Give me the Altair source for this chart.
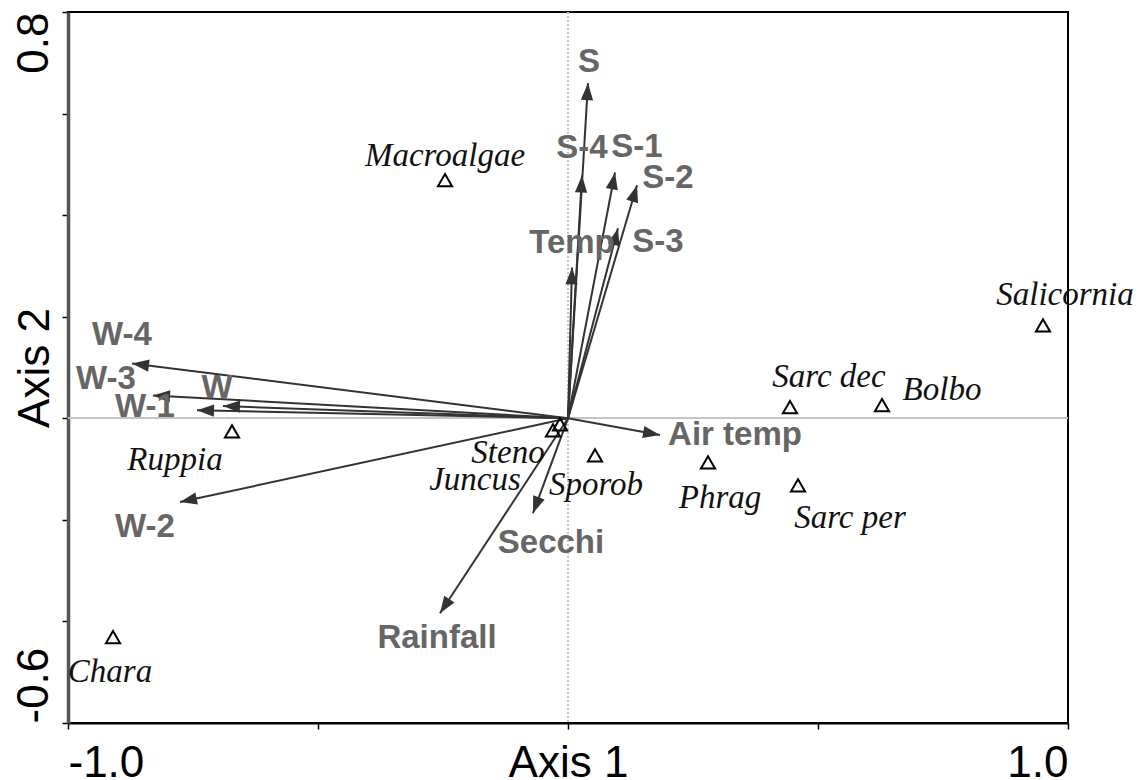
import altair as alt
import pandas as pd
import numpy as np

# ---------------- data ----------------
species = ["Macroalgae", "Salicornia", "Sarc dec", "Bolbo", "Sarc per", "Phrag",
           "Sporob", "Steno", "Juncus", "Ruppia", "Chara"]
species_x = [-0.246, 0.95, 0.444, 0.628, 0.46, 0.28, 0.054, -0.03, -0.016, -0.672, -0.91]
species_y = [0.469, 0.183, 0.022, 0.026, -0.132, -0.087, -0.073, -0.024, -0.012, -0.026, -0.431]

variables = ["S", "S-4", "S-1", "S-2", "S-3", "Temp", "W-4", "W-3", "W-1", "W", "W-2",
             "Air temp", "Secchi", "Rainfall"]
var_x = [0.04, 0.028, 0.094, 0.138, 0.1, 0.008, -0.872, -0.83, -0.742, -0.69, -0.776,
         0.184, -0.07, -0.256]
var_y = [0.66, 0.478, 0.484, 0.459, 0.374, 0.297, 0.108, 0.045, 0.016, 0.024, -0.165,
         -0.033, -0.187, -0.384]

x_ticks = [-1.0, -0.5, 0.0, 0.5, 1.0]
y_ticks = [-0.6, -0.4, -0.2, 0.0, 0.2, 0.4, 0.6, 0.8]

# ---------------- layout (label placement offsets in pixels) ----------------
species_label_dx = [0, 22, 39, 60, 52, 12, 1, -45, -85, -57, -3]
species_label_dy = [-14, -20, -20, -5, 43, 46, 40, 33, 66, 39, 45]
var_label_dx = [1, 0, 22, 31, 40, 0, -10, -47, -52, -6, -35, 75, 18, -3]
var_label_dy = [-11, -18, -15, 3, 24, -14, -18, -6, 7, -8, 35, 10, 40, 35]

W, H = 1000, 711
XDOM = [-1.0, 1.0]
YDOM = [-0.6, 0.8]
px_x = W / (XDOM[1] - XDOM[0])
px_y = H / (YDOM[1] - YDOM[0])

sp = pd.DataFrame({"name": species, "x": species_x, "y": species_y})
sp["lx"] = sp["x"] + np.array(species_label_dx) / px_x
sp["ly"] = sp["y"] - np.array(species_label_dy) / px_y

vr = pd.DataFrame({"name": variables, "x": var_x, "y": var_y})
vr["x0"] = 0.0
vr["y0"] = 0.0
vr["lx"] = vr["x"] + np.array(var_label_dx) / px_x
vr["ly"] = vr["y"] - np.array(var_label_dy) / px_y
vr["angle"] = np.degrees(np.arctan2(vr["x"] * px_x, vr["y"] * px_y)) % 360

xscale = alt.Scale(domain=XDOM, nice=False, zero=False)
yscale = alt.Scale(domain=YDOM, nice=False, zero=False)

fmt = "(datum.value < 0 ? '-' : '') + format(abs(datum.value), '.1f')"

xaxis = alt.Axis(
    values=x_ticks, title=None, grid=False,
    labelExpr="datum.value == 0 ? 'Axis 1' : (abs(datum.value) == 1 ? " + fmt + " : '')",
    labelFlush=True, labelBaseline="alphabetic", labelPadding=47,
    labelFont="Liberation Sans", labelFontSize=44, labelColor="black",
    tickSize=6, tickColor="black", tickWidth=1.5,
    domainColor="black", domainWidth=2,
)
yaxis = alt.Axis(
    values=y_ticks, title="Axis 2", grid=False,
    labelExpr="(datum.value > 0.79 || datum.value < -0.59) ? " + fmt + " : ''",
    labelAngle=270, labelBaseline="alphabetic",
    labelAlign={"condition": {"test": "datum.value > 0", "value": "right"}, "value": "left"},
    labelPadding=15,
    labelFont="Liberation Sans", labelFontSize=44, labelColor="black",
    titleFont="Liberation Sans", titleFontSize=44, titleFontWeight="normal", titleColor="black",
    titleAngle=270, titleBaseline="alphabetic", titleAlign="center",
    titleX=-20, titleY=H / 2,
    tickSize=6, tickColor="black", tickWidth=1.5,
    domainColor="#555555", domainWidth=3.5,
)


def X(field):
    return alt.X(f"{field}:Q", scale=xscale, axis=xaxis)


def Y(field):
    return alt.Y(f"{field}:Q", scale=yscale, axis=yaxis)


base_sp = alt.Chart(sp)
base_vr = alt.Chart(vr)

hzero = alt.Chart(sp).mark_rule(color="#c4c4c4", strokeWidth=1).encode(y=alt.datum(0, scale=yscale))
vzero = alt.Chart(sp).mark_rule(color="#c4c4c4", strokeWidth=1, strokeDash=[2, 2]).encode(
    x=alt.datum(0, scale=xscale))

arrows = base_vr.mark_rule(color="#333333", strokeWidth=2).encode(
    x=X("x0"), y=Y("y0"), x2="x:Q", y2="y:Q")

heads = base_vr.mark_point(
    shape="M0,0 L0.36,1 L-0.36,1 Z", filled=True, color="#333333", opacity=1,
    size=1156, strokeWidth=0
).encode(x=X("x"), y=Y("y"), angle=alt.Angle("angle:Q", scale=None))

var_labels = base_vr.mark_text(
    font="Liberation Sans", fontSize=33, fontWeight="bold", color="#666666",
    align="center", baseline="alphabetic"
).encode(x=X("lx"), y=Y("ly"), text="name:N")

points = base_sp.mark_point(
    shape="triangle-up", filled=False, color="black", strokeWidth=2, size=200, opacity=1
).encode(x=X("x"), y=Y("y"))

sp_labels = base_sp.mark_text(
    font="Liberation Serif", fontSize=33, fontStyle="italic", color="#111111",
    align="center", baseline="alphabetic"
).encode(x=X("lx"), y=Y("ly"), text="name:N")

chart = alt.layer(hzero, vzero, arrows, heads, points, var_labels, sp_labels).properties(
    width=W, height=H,
    autosize=alt.AutoSizeParams(type="none"),
    padding={"left": 68, "top": 12, "right": 78, "bottom": 57},
    background="white",
).configure_view(stroke="black", strokeWidth=2)

chart.save("out.html", embed_options={"renderer": "svg", "actions": False})
